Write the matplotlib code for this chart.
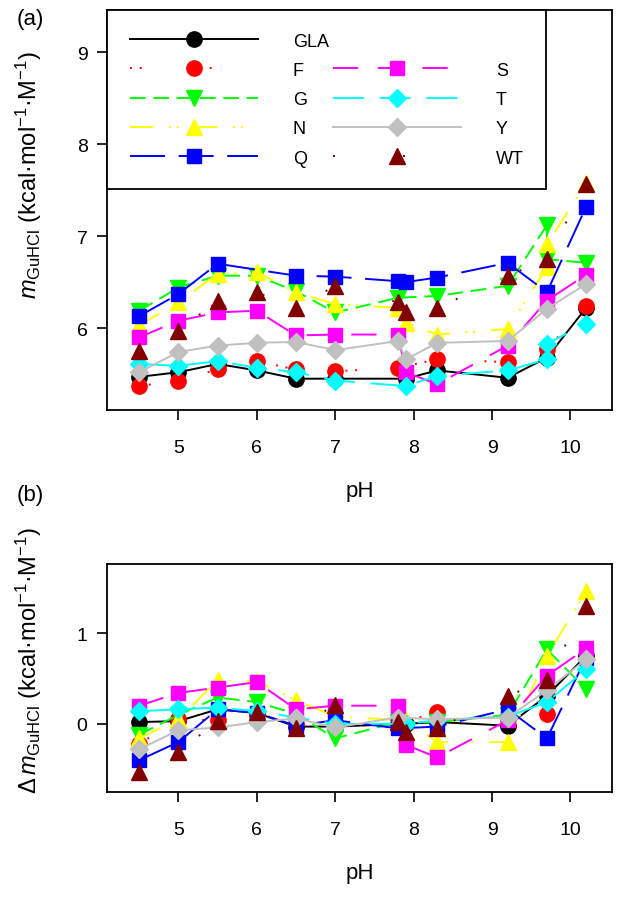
import numpy as np
from matplotlib import pyplot as plt

plt.rcParams['font.family'] = ['Liberation Sans', 'DejaVu Sans']
plt.rcParams['mathtext.fontset'] = 'custom'
plt.rcParams['mathtext.rm'] = 'Liberation Sans'
plt.rcParams['mathtext.it'] = 'Liberation Sans:italic'

nan = np.nan
pH = [4.5, 5.0, 5.5, 6.0, 6.5, 7.0, 7.8, 7.9, 8.3, 9.2, 9.7, 9.7, 10.2]
names = ['GLA', 'F', 'G', 'N', 'Q', 'S', 'T', 'Y', 'WT']

# panel (a): m_GuHCl
m_a = {
    'GLA': [5.47, 5.52, 5.61, 5.54, 5.45, 5.45, nan, 5.45, 5.54, 5.46, 5.68, nan, 6.22],
    'F':   [5.37, 5.43, 5.55, 5.64, 5.55, 5.53, 5.57, nan, 5.66, 5.63, 5.77, nan, 6.24],
    'G':   [6.19, 6.44, 6.57, 6.57, 6.40, 6.17, 6.33, nan, 6.35, 6.46, 7.12, 6.75, 6.71],
    'N':   [6.03, 6.28, 6.59, 6.61, 6.39, 6.26, 6.22, 6.06, 5.93, 5.99, 6.66, 6.91, 7.58],
    'Q':   [6.13, 6.37, 6.70, nan, 6.57, 6.56, 6.51, 6.50, 6.55, 6.71, 6.39, nan, 7.32],
    'S':   [5.90, 6.08, 6.17, 6.19, 5.92, 5.93, 5.93, 5.52, 5.39, 5.81, 6.30, nan, 6.58],
    'T':   [5.61, 5.59, 5.64, 5.57, 5.52, 5.43, nan, 5.37, 5.48, 5.54, 5.66, 5.83, 6.05],
    'Y':   [5.52, 5.74, 5.81, 5.84, 5.85, 5.76, 5.86, 5.66, 5.84, 5.86, 6.21, nan, 6.48],
    'WT':  [5.75, 5.97, 6.30, 6.39, 6.22, 6.46, 6.28, 6.18, 6.22, 6.57, 6.75, nan, 7.57],
}

# panel (b): delta m_GuHCl
m_b = {
    'GLA': [0.02, 0.03, 0.16, 0.12, -0.03, -0.03, nan, 0.00, 0.02, -0.02, 0.31, nan, 0.75],
    'F':   [-0.22, 0.05, 0.04, 0.10, 0.00, 0.00, 0.00, nan, 0.13, 0.05, 0.11, nan, 0.73],
    'G':   [-0.12, 0.10, 0.29, 0.24, 0.11, -0.16, 0.02, nan, 0.02, 0.10, 0.82, nan, 0.38],
    'N':   [-0.16, 0.05, 0.48, 0.47, 0.26, 0.08, nan, 0.04, -0.20, -0.20, 0.75, nan, 1.46],
    'Q':   [-0.40, -0.20, 0.16, 0.12, -0.02, 0.04, -0.05, nan, -0.03, 0.16, -0.16, nan, 0.73],
    'S':   [0.20, 0.34, 0.40, 0.46, 0.16, 0.20, 0.20, -0.23, -0.37, 0.04, 0.53, nan, 0.83],
    'T':   [0.14, 0.16, 0.18, 0.14, 0.07, 0.00, nan, 0.00, 0.04, 0.08, 0.24, nan, 0.60],
    'Y':   [-0.28, -0.07, -0.04, 0.02, 0.06, -0.04, 0.07, nan, 0.05, 0.07, 0.37, nan, 0.71],
    'WT':  [-0.53, -0.31, 0.03, 0.13, -0.05, 0.21, 0.02, -0.09, -0.05, 0.31, 0.48, nan, 1.30],
}

styles = {
    'GLA': dict(color='black', marker='o', ls='-'),
    'F':   dict(color='#FF0000', marker='o', ls=(0, (1, 4, 1, 30))),
    'G':   dict(color='#00FF00', marker='v', ls=(0, (8, 4))),
    'N':   dict(color='#FFFF00', marker='^', ls=(0, (12, 8, 1, 3, 1, 8))),
    'Q':   dict(color='#0000FF', marker='s', ls=(0, (18, 7))),
    'S':   dict(color='#FF00FF', marker='s', ls=(0, (13, 10))),
    'T':   dict(color='#00FFFF', marker='D', ls=(0, (16, 8))),
    'Y':   dict(color='#C0C0C0', marker='D', ls='-'),
    'WT':  dict(color='#800000', marker='^', ls=(0, (1, 35))),
}
msize = {'o': 11, 'v': 11, '^': 11, 's': 10, 'D': 9}

fig = plt.figure(figsize=(6.24, 9.04), dpi=100)
ax1 = fig.add_axes([0.1715, 0.5454, 0.8093, 0.4425])
ax2 = fig.add_axes([0.1715, 0.1228, 0.8093, 0.2522])

x = np.array(pH)
handles = []
for ax, data in [(ax1, m_a), (ax2, m_b)]:
    for nm in names:
        y = np.array(data[nm], dtype=float)
        ok = ~np.isnan(y)
        st = styles[nm]
        h, = ax.plot(x[ok], y[ok], color=st['color'], ls=st['ls'], lw=1.4,
                     marker=st['marker'], ms=msize[st['marker']], mec=st['color'],
                     label=nm)
        if ax is ax1:
            handles.append(h)

for ax in (ax1, ax2):
    ax.set_xlim(4.09, 10.53)
    ax.set_xticks([5, 6, 7, 8, 9, 10])
    ax.tick_params(direction='out', length=7, width=1.2, labelsize=14)
    ax.tick_params(axis='x', pad=14)
    ax.tick_params(axis='y', pad=7)
    for s in ax.spines.values():
        s.set_linewidth(1.3)
    ax.set_xlabel('pH', fontsize=16, labelpad=17)

ax1.set_ylim(5.11, 9.46)
ax1.set_yticks([6, 7, 8, 9])
ax2.set_ylim(-0.75, 1.76)
ax2.set_yticks([0, 1])

ax1.set_ylabel(r'$\mathit{m}_{\mathrm{GuHCl}}$ (kcal·mol$^{-1}$·M$^{-1}$)', fontsize=17)
ax1.yaxis.set_label_coords(-0.125, 0.59)
ax2.set_ylabel(r'$\Delta\,\mathit{m}_{\mathrm{GuHCl}}$ (kcal·mol$^{-1}$·M$^{-1}$)', fontsize=17)
ax2.yaxis.set_label_coords(-0.125, 0.58)

# legend: blank slot so column 2 starts one row lower
blank, = ax1.plot([], [], ls='none', label=' ')
leg_h = handles[:5] + [blank] + handles[5:]
leg = ax1.legend(leg_h, [h.get_label() for h in leg_h], ncol=2, loc='upper left',
                 bbox_to_anchor=(0, 1), borderaxespad=0, fontsize=13,
                 handlelength=7.1, handletextpad=1.95, columnspacing=0.2,
                 borderpad=1.25, labelspacing=0.68, fancybox=False,
                 edgecolor='black', framealpha=1)
leg.get_frame().set_linewidth(1.3)

fig.text(0.048, 0.978, '(a)', fontsize=16, ha='center', va='center')
fig.text(0.048, 0.452, '(b)', fontsize=16, ha='center', va='center')

fig.savefig('out.png', dpi=100)
